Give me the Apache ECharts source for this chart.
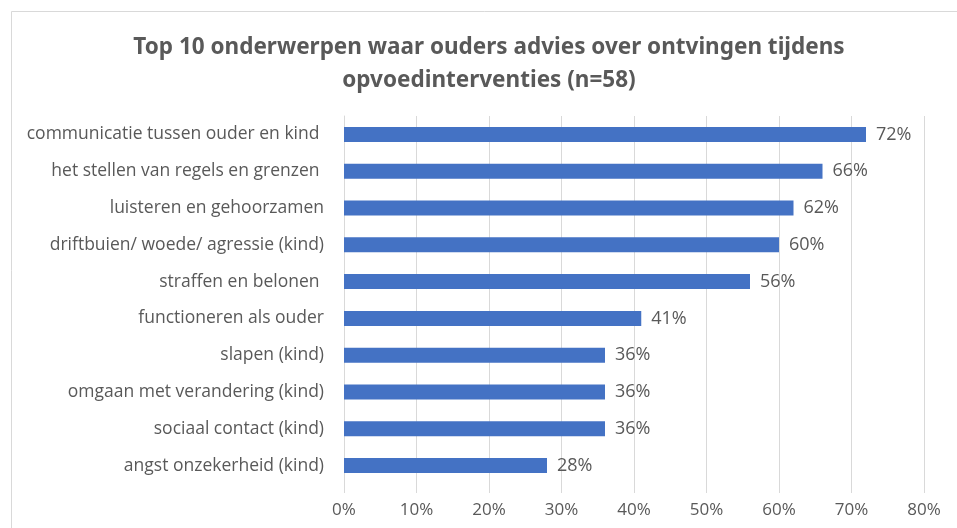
<!DOCTYPE html>
<html><head><meta charset="utf-8">
<script src="https://cdn.jsdelivr.net/npm/echarts@6/dist/echarts.min.js"></script>
<style>html,body{margin:0;padding:0;background:#fff}#c{width:957px;height:528px}</style>
</head><body><div id="c"></div>
<script>
var titleText = 'Top 10 onderwerpen waar ouders advies over ontvingen tijdens\nopvoedinterventies (n=58)';
var categories = [
  'communicatie tussen ouder en kind ',
  'het stellen van regels en grenzen ',
  'luisteren en gehoorzamen',
  'driftbuien/ woede/ agressie (kind)',
  'straffen en belonen ',
  'functioneren als ouder',
  'slapen (kind)',
  'omgaan met verandering (kind)',
  'sociaal contact (kind)',
  'angst onzekerheid (kind)'
];
var values = [0.72, 0.66, 0.62, 0.60, 0.56, 0.41, 0.36, 0.36, 0.36, 0.28];
var xMin = 0, xMax = 0.8, xStep = 0.1;

var chart = echarts.init(document.getElementById('c'), null, {renderer: 'canvas'});
chart.setOption({
  animation: false,
  backgroundColor: '#fff',
  graphic: [{
    type: 'rect', shape: {x: 11.5, y: 11.5, width: 960, height: 530},
    style: {fill: 'none', stroke: '#d9d9d9', lineWidth: 1}, silent: true
  }],
  title: {
    text: titleText, left: 484, textAlign: 'center', top: 26,
    textStyle: {fontFamily: 'Noto Sans', fontWeight: 'bold', fontSize: 22.5, color: '#595959', lineHeight: 33}
  },
  grid: {left: 344, right: 33, top: 116, bottom: 44, containLabel: false},
  xAxis: {
    type: 'value', min: xMin, max: xMax, interval: xStep,
    axisLine: {show: false},
    axisTick: {show: true, length: 9, lineStyle: {color: '#d9d9d9'}},
    splitLine: {show: true, lineStyle: {color: '#d9d9d9', width: 1}},
    axisLabel: {margin: 18, fontFamily: 'Open Sans', fontSize: 17, color: '#595959',
      formatter: function (v) { return Math.round(v * 100) + '%'; }}
  },
  yAxis: {
    type: 'category', data: categories, inverse: true,
    axisLine: {show: true, lineStyle: {color: '#d9d9d9'}},
    axisTick: {show: false},
    axisLabel: {margin: 20, fontFamily: 'Open Sans', fontSize: 17.5, color: '#595959'}
  },
  series: [{
    type: 'bar', data: values, barWidth: 15,
    itemStyle: {color: '#4472c4'},
    label: {show: true, position: 'right', distance: 10, fontFamily: 'Open Sans', fontSize: 18, color: '#595959',
      formatter: function (p) { return Math.round(p.value * 100) + '%'; }}
  }]
});
</script></body></html>
